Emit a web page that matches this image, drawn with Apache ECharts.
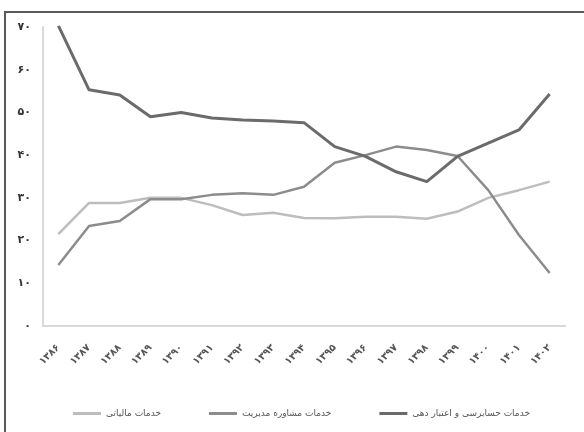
<!DOCTYPE html>
<html>
<head>
<meta charset="utf-8">
<script src="https://cdn.jsdelivr.net/npm/echarts@6/dist/echarts.min.js"></script>
<style>
  html, body { margin: 0; padding: 0; background: #fff; }
  #echartbox { width: 584px; height: 432px; }
</style>
</head>
<body>
<div id="echartbox"></div>
<script>
// سال‌ها
var years = ['۱۳۸۶', '۱۳۸۷', '۱۳۸۸', '۱۳۸۹', '۱۳۹۰', '۱۳۹۱', '۱۳۹۲', '۱۳۹۳', '۱۳۹۴',
    '۱۳۹۵', '۱۳۹۶', '۱۳۹۷', '۱۳۹۸', '۱۳۹۹', '۱۴۰۰', '۱۴۰۱', '۱۴۰۲'];

var names = ['خدمات مالیاتی', 'خدمات مشاوره مدیریت', 'خدمات حسابرسی و اعتبار دهی'];

var auditData = [70.3, 55.3, 54.1, 49, 50, 48.7, 48.2, 48, 47.6, 42, 39.7, 36.1, 33.8, 39.7, 42.8, 45.9, 54.3];
var consultData = [14.3, 23.4, 24.6, 29.7, 29.7, 30.7, 31.1, 30.7, 32.6, 38.2, 40, 42, 41.2, 39.8, 31.8, 21.3, 12.4];
var taxData = [21.5, 28.8, 28.8, 30, 30, 28.3, 26, 26.5, 25.3, 25.2, 25.6, 25.6, 25.1, 26.8, 30, 31.8, 33.8];

var yTicks = ['۰', '۱۰', '۲۰', '۳۰', '۴۰', '۵۰', '۶۰', '۷۰'];

var myChart = echarts.init(document.getElementById('echartbox'));

var option = {
    backgroundColor: '#fff',
    animation: false,
    textStyle: { fontFamily: 'DejaVu Sans' },
    graphic: [{
        type: 'polyline',
        shape: { points: [[5, 440], [5, 12], [590, 12]] },
        style: { stroke: '#5a5a5a', lineWidth: 2, fill: 'none' },
        silent: true
    }],
    legend: {
        data: names,
        left: 68,
        top: 404,
        width: 900,
        icon: 'rect',
        itemGap: 48,
        itemWidth: 28,
        itemHeight: 3,
        textStyle: { fontSize: 9, color: '#555', fontFamily: 'DejaVu Sans' }
    },
    grid: {
        left: 43,
        right: 19,
        top: 27,
        bottom: 106
    },
    xAxis: {
        type: 'category',
        data: years,
        boundaryGap: true,
        axisTick: { show: false },
        axisLine: { lineStyle: { color: '#d9d9d9', width: 2 } },
        axisLabel: {
            rotate: 45,
            interval: 0,
            fontSize: 10,
            fontWeight: 'bold',
            color: '#555',
            margin: 20
        }
    },
    yAxis: {
        type: 'value',
        min: 0,
        max: 70,
        interval: 10,
        splitLine: { show: false },
        axisTick: { show: false },
        axisLine: { show: true, lineStyle: { color: '#d9d9d9', width: 2 } },
        axisLabel: {
            color: '#333',
            fontSize: 11,
            fontWeight: 'bold',
            margin: 12,
            formatter: function (v) { return yTicks[v / 10]; }
        }
    },
    series: [{
        name: names[0],
        type: 'line',
        data: taxData,
        symbol: 'none',
        lineStyle: { color: '#bdbdbd', width: 2.5 },
        itemStyle: { color: '#bdbdbd' }
    }, {
        name: names[1],
        type: 'line',
        data: consultData,
        symbol: 'none',
        lineStyle: { color: '#8c8c8c', width: 2.5 },
        itemStyle: { color: '#8c8c8c' }
    }, {
        name: names[2],
        type: 'line',
        data: auditData,
        symbol: 'none',
        lineStyle: { color: '#6b6b6b', width: 3 },
        itemStyle: { color: '#6b6b6b' }
    }]
};

myChart.setOption(option);
</script>
</body>
</html>
